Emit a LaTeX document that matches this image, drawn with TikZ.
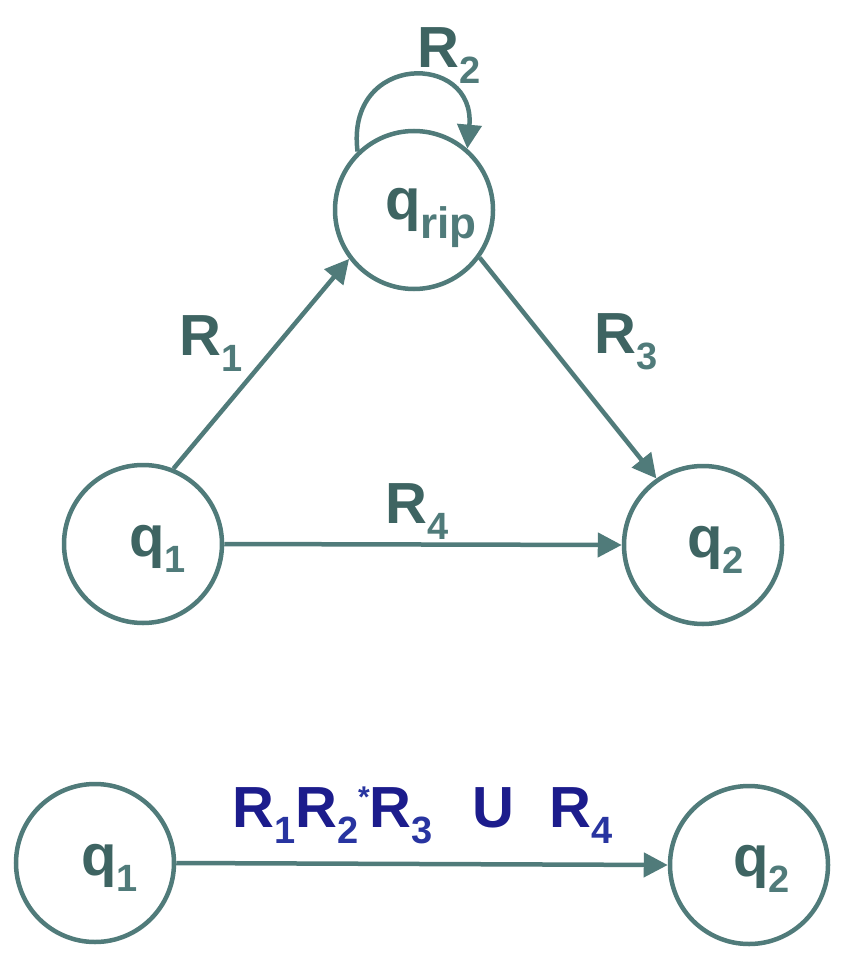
\documentclass[tikz,border=0pt]{standalone}
\usepackage{fontspec}
\setmainfont{Liberation Sans}
\usetikzlibrary{arrows.meta}
\definecolor{textc}{RGB}{62,100,98}
\definecolor{linec}{RGB}{80,123,122}
\definecolor{bluec}{RGB}{28,28,140}
\definecolor{bluesub}{RGB}{40,52,160}
\newcommand\subt[1]{\raisebox{-16pt}{\fontsize{38}{38}\selectfont\color{linec}#1}}
\newcommand\subb[1]{\raisebox{-16pt}{\fontsize{38}{38}\selectfont\color{bluesub}#1}}
\begin{document}
\begin{tikzpicture}[x=1pt,y=-1pt,
  st/.style={circle,draw=linec,line width=4.5pt,minimum size=158pt,inner sep=0pt},
  lbl/.style={anchor=base west,inner sep=0pt,text=textc,font=\fontsize{58}{60}\selectfont\bfseries},
  conn/.style={draw=linec,line width=4.5pt,-{Triangle[length=24pt,width=24pt]}}]
\useasboundingbox (0,0) rectangle (848,968);
% states, top
\node[st] (qrip) at (414,210) {};
\node[st] (q1) at (143,544) {};
\node[st] (q2) at (703,545) {};
% states, bottom
\node[st] (bq1) at (95,863) {};
\node[st] (bq2) at (749,865) {};
% state labels
\node[lbl] (tqrip) at (385,220) {q\raisebox{-18pt}{\fontsize{44}{44}\selectfont\color{linec}rip}};
\node[lbl] (tq1) at (129,556) {q\subt{1}};
\node[lbl] (tq2) at (687,557) {q\subt{2}};
\node[lbl] (tbq1) at (81,875) {q\subt{1}};
\node[lbl] (tbq2) at (733,876) {q\subt{2}};
% connectors
\draw[conn] (q1.68) -- (qrip.217);
\draw[conn] (qrip.-36) -- (q2.125);
\draw[conn] (q1.east) -- (q2.west);
\draw[conn] (qrip.134) .. controls (345,52) and (476,52) .. (qrip.49);
\draw[conn] (bq1.east) -- (bq2.west);
% connector labels
\node[lbl] (lR2) at (417,68) {R\subt{2}};
\node[lbl] (lR1) at (179,355) {R\subt{1}};
\node[lbl] (lR3) at (594,353) {R\subt{3}};
\node[lbl] (lR4) at (385,523) {R\subt{4}};
\node[lbl,text=bluec,font=\fontsize{58}{60}\selectfont\bfseries] (lbot) at (232,827)
  {R\subb{1}R\subb{2}\raisebox{20pt}{\fontsize{30}{30}\selectfont\color{bluesub}*}R\subb{3}\hspace{40pt}U\hspace{35pt}R\subb{4}};
\end{tikzpicture}
\end{document}
